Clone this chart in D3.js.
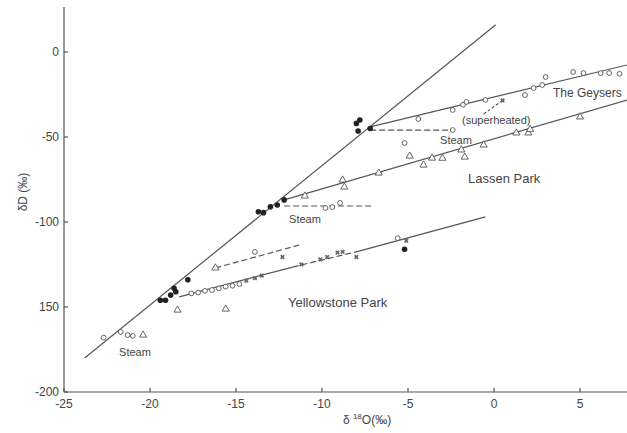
<!DOCTYPE html>
<html>
<head>
  <meta charset="utf-8">
  <script src="https://d3js.org/d3.v7.min.js"></script>
  <style>
    body { margin: 0; background: #fff; }
    text { font-family: "Liberation Sans", sans-serif; fill: #444; }
    .tick-label { font-size: 12px; }
    .note { font-size: 11px; }
    .park { font-size: 13px; }
    .ln { fill: none; stroke: #555; stroke-width: 1.2; }
    .dash { stroke-dasharray: 6,3; }
  </style>
</head>
<body>
  <script>

    // tick values and labels
    var xTicks = [-25, -20, -15, -10, -5, 0, 5];
    var yTicks = [0, -50, -100, -150, -200];
    var yTickLabels = ["0", "-50", "-100", "150", "-200"];

    // lines [d18O, dD]
    var mwlLine = [[-23.8, -180], [0.1, 16]];
    var geysersLine = [[-7.2, -44], [7.75, -7.6]];
    var lassenLine = [[-12.2, -87], [7.75, -28.2]];
    var yellowSolidA = [[-18.3, -144], [-11.7, -126.5]];
    var yellowDashed = [[-11.7, -126.5], [-7.8, -117]];
    var yellowSolidB = [[-7.8, -117], [-0.5, -97]];
    var geysersSteam = [[-7.2, -45.9], [-2.4, -45.9]];
    var superheated = [[-0.6, -36.5], [0.5, -28.5]];
    var lassenSteam = [[-12.2, -90.6], [-7.0, -90.6]];
    var yellowSteam = [[-16.2, -127], [-11.3, -113.5]];

    // filled symbols (unaltered waters)
    var filledPts = [[-8.0, -42], [-7.9, -46.5], [-7.8, -40], [-7.2, -45],
      [-13.7, -94], [-13.4, -94.5], [-13.0, -91], [-12.6, -90], [-12.2, -87],
      [-19.4, -146], [-19.1, -146], [-18.8, -143], [-18.6, -139], [-18.5, -141], [-17.8, -134],
      [-5.2, -116]];

    // open circles
    var circlePts = [[-4.4, -39.4], [-2.4, -34.1], [-1.8, -31], [-1.6, -29.4], [-0.5, -28.2],
      [1.8, -25.3], [2.3, -21.2], [2.8, -19.4], [3.0, -14.7], [4.6, -11.8], [5.2, -12.4],
      [6.2, -12.4], [6.7, -12.4], [7.3, -12.8],
      [-2.4, -45.9], [-5.2, -53.5],
      [-9.8, -91.8], [-9.4, -91.2], [-8.95, -88.8],
      [-17.6, -142], [-17.2, -141.5], [-16.8, -140.5], [-16.4, -140], [-16.0, -139],
      [-15.6, -138], [-15.2, -137.5], [-14.8, -136.5], [-13.9, -117.6],
      [-22.7, -168], [-21.7, -164.7], [-21.3, -166.5], [-21.0, -167],
      [-5.6, -109.5]];

    // open triangles
    var trianglePts = [[-11.0, -84.7], [-8.8, -75.3], [-8.7, -79.4], [-6.7, -71.2], [-4.9, -61.2],
      [-4.1, -66.5], [-3.6, -62.4], [-3.0, -62.5], [-1.9, -57.6], [-1.7, -61.8], [-0.6, -54.7],
      [1.3, -47.6], [2.0, -47.6], [2.1, -45.5], [5.0, -38.2],
      [-18.4, -151.8], [-15.6, -151.2], [-16.2, -127],
      [-20.4, -166.5]];

    // crosses
    var crossPts = [[-14.4, -134.5], [-13.9, -133], [-13.5, -131.5], [-12.3, -120.6],
      [-11.2, -125], [-10.1, -122], [-9.7, -120.6], [-9.1, -118], [-8.8, -117.6], [-8.0, -120.6],
      [-5.1, -111], [0.5, -28.5]];

    var width = 627, height = 433;

    var x = d3.scaleLinear().domain([-25, 5]).range([64, 580]);
    var y = d3.scaleLinear().domain([-200, 0]).range([392, 52]);

    var svg = d3.select("body").append("svg")
        .attr("width", width)
        .attr("height", height);

    // axes lines
    svg.append("line").attr("class", "ln")
        .attr("x1", x(-25)).attr("x2", width)
        .attr("y1", y(-200)).attr("y2", y(-200));
    svg.append("line").attr("class", "ln")
        .attr("x1", x(-25)).attr("x2", x(-25))
        .attr("y1", y(-200)).attr("y2", 7);

    // x ticks (inside)
    svg.selectAll(".xt").data(xTicks).enter().append("line")
        .attr("class", "ln")
        .attr("x1", function(d) { return x(d); })
        .attr("x2", function(d) { return x(d); })
        .attr("y1", y(-200)).attr("y2", y(-200) - 4);
    svg.selectAll(".xl").data(xTicks).enter().append("text")
        .attr("class", "tick-label")
        .attr("x", function(d) { return x(d); })
        .attr("y", y(-200) + 16)
        .attr("text-anchor", "middle")
        .text(function(d) { return d; });

    // y ticks (inside)
    svg.selectAll(".yt").data(yTicks).enter().append("line")
        .attr("class", "ln")
        .attr("x1", x(-25)).attr("x2", x(-25) + 4)
        .attr("y1", function(d) { return y(d); })
        .attr("y2", function(d) { return y(d); });
    svg.selectAll(".yl").data(yTicks).enter().append("text")
        .attr("class", "tick-label")
        .attr("x", x(-25) - 5)
        .attr("y", function(d) { return y(d) + 4; })
        .attr("text-anchor", "end")
        .text(function(d, i) { return yTickLabels[i]; });

    // axis titles
    svg.append("text")
        .attr("class", "tick-label")
        .attr("transform", "translate(27,192) rotate(-90)")
        .attr("text-anchor", "middle")
        .text("δD (‰)");
    var xt = svg.append("text")
        .attr("class", "tick-label")
        .attr("x", 367).attr("y", 424)
        .attr("text-anchor", "middle");
    xt.append("tspan").text("δ ");
    xt.append("tspan").attr("font-size", "8px").attr("dy", -5).text("18");
    xt.append("tspan").attr("dy", 5).text("O(‰)");

    var line = d3.line()
        .x(function(d) { return x(d[0]); })
        .y(function(d) { return y(d[1]); });

    [mwlLine, geysersLine, lassenLine, yellowSolidA, yellowSolidB].forEach(function(l) {
      svg.append("path").attr("class", "ln").attr("d", line(l));
    });
    [yellowDashed, geysersSteam, lassenSteam, yellowSteam].forEach(function(l) {
      svg.append("path").attr("class", "ln dash").attr("d", line(l));
    });
    svg.append("path").attr("class", "ln").attr("stroke-dasharray", "3,2")
        .attr("stroke-width", 0.8).attr("d", line(superheated));

    // symbols
    svg.selectAll(".oc").data(circlePts).enter().append("circle")
        .attr("cx", function(d) { return x(d[0]); })
        .attr("cy", function(d) { return y(d[1]); })
        .attr("r", 2.4)
        .attr("fill", "#fff").attr("stroke", "#555").attr("stroke-width", 0.9);

    var tri = d3.symbol().type(d3.symbolTriangle).size(22);
    svg.selectAll(".tr").data(trianglePts).enter().append("path")
        .attr("d", tri)
        .attr("transform", function(d) { return "translate(" + x(d[0]) + "," + y(d[1]) + ")"; })
        .attr("fill", "#fff").attr("stroke", "#555").attr("stroke-width", 0.9);

    var cross = d3.symbol().type(d3.symbolCross).size(14);
    svg.selectAll(".cr").data(crossPts).enter().append("path")
        .attr("d", cross)
        .attr("transform", function(d) { return "translate(" + x(d[0]) + "," + y(d[1]) + ") rotate(45)"; })
        .attr("fill", "#666");

    svg.selectAll(".fc").data(filledPts).enter().append("circle")
        .attr("cx", function(d) { return x(d[0]); })
        .attr("cy", function(d) { return y(d[1]); })
        .attr("r", 2.8)
        .attr("fill", "#222");

    // annotations
    svg.append("text").attr("class", "park").attr("x", 553).attr("y", 97)
        .attr("font-size", "12px").style("font-size", "12px").text("The Geysers");
    svg.append("text").attr("class", "park").attr("x", 468).attr("y", 183).text("Lassen Park");
    svg.append("text").attr("class", "park").attr("x", 288).attr("y", 307).text("Yellowstone Park");
    svg.append("text").attr("class", "note").attr("x", 462).attr("y", 124).text("(superheated)");
    svg.append("text").attr("class", "note").attr("x", 456).attr("y", 144).attr("text-anchor", "middle").text("Steam");
    svg.append("text").attr("class", "note").attr("x", 305).attr("y", 223).attr("text-anchor", "middle").text("Steam");
    svg.append("text").attr("class", "note").attr("x", 135).attr("y", 356).attr("text-anchor", "middle").text("Steam");

  </script>
</body>
</html>
